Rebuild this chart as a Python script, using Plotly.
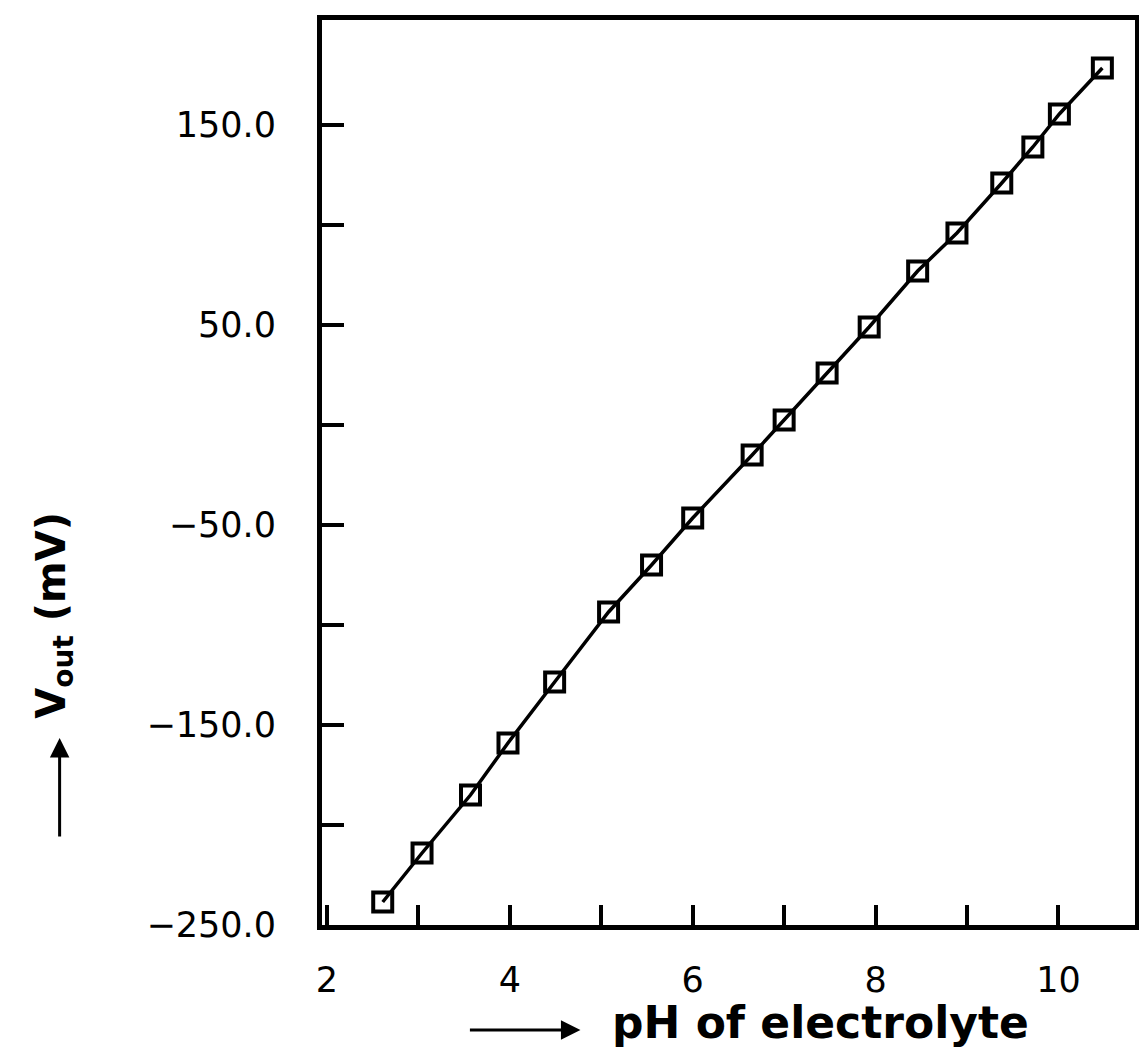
import plotly.graph_objects as go

# Data
ph = [2.61, 3.04, 3.57, 3.98, 4.49, 5.08, 5.55, 6.00, 6.65, 7.00,
      7.47, 7.93, 8.46, 8.89, 9.38, 9.72, 10.01, 10.48]
vout = [-238.5, -214.0, -185.0, -159.0, -128.5, -93.5, -70.0, -46.5, -15.0, 2.5,
        26.0, 49.0, 77.0, 96.0, 121.0, 139.0, 155.5, 178.5]

x_tickvals = [2, 3, 4, 5, 6, 7, 8, 9, 10]
x_ticktext = ["2", "", "4", "", "6", "", "8", "", "10"]
y_tickvals = [-250, -200, -150, -100, -50, 0, 50, 100, 150]
y_ticktext = ["\u2212250.0", "", "\u2212150.0", "", "\u221250.0", "", "50.0", "", "150.0"]

OFF = 8  # default page body margin
W, H = 1147 - OFF, 1048 - OFF
# plot area in page pixels
L, R, T, B = 322, 1140, 20, 925

fig = go.Figure()
fig.add_trace(go.Scatter(
    x=ph, y=vout, mode="lines+markers",
    line=dict(color="black", width=3.5),
    marker=dict(symbol="square-open", size=19, color="black",
                line=dict(color="black", width=4)),
    showlegend=False, cliponaxis=False,
))

font_tick = dict(family="DejaVu Sans", size=35, color="black")

fig.update_xaxes(
    range=[1.946, 10.837], tickmode="array", tickvals=x_tickvals, ticktext=x_ticktext,
    ticks="inside", ticklen=20, tickwidth=4, tickcolor="black",
    showline=True, linewidth=5, linecolor="black", mirror=True,
    showgrid=False, zeroline=False, tickfont=font_tick, ticklabelstandoff=20,
)
fig.update_yaxes(
    range=[-250, 202.5], tickmode="array", tickvals=y_tickvals, ticktext=y_ticktext,
    ticks="inside", ticklen=22, tickwidth=4, tickcolor="black",
    showline=True, linewidth=5, linecolor="black", mirror=True,
    showgrid=False, zeroline=False, tickfont=font_tick, ticklabelstandoff=34,
)

def px(xp):
    return (xp - L) / (R - L)

def py(yp):
    return (B - yp) / (B - T)

title_font = dict(family="DejaVu Sans", size=40, color="black", weight="bold")
xtitle_font = dict(family="DejaVu Sans", size=44, color="black", weight="bold")

annotations = [
    dict(text="<b>V<sub>out</sub> (mV)</b>", xref="paper", yref="paper",
         x=px(52), y=py(615), xanchor="center", yanchor="middle",
         textangle=-90, showarrow=False, font=title_font),
    dict(text="", xref="paper", yref="paper", x=px(58), y=py(738),
         ax=0, ay=100, showarrow=True, arrowhead=2, arrowsize=1.3,
         arrowwidth=3, arrowcolor="black", standoff=0),
    dict(text="<b>pH of electrolyte</b>", xref="paper", yref="paper",
         x=px(612), y=py(1022), xanchor="left", yanchor="middle",
         showarrow=False, font=xtitle_font),
    dict(text="", xref="paper", yref="paper", x=px(582), y=py(1030),
         ax=-112, ay=0, showarrow=True, arrowhead=2, arrowsize=1.3,
         arrowwidth=3, arrowcolor="black", standoff=0),
]

fig.update_layout(
    width=W, height=H,
    margin=dict(l=L - OFF, r=W - (R - OFF), t=T - OFF, b=H - (B - OFF)),
    paper_bgcolor="white", plot_bgcolor="white",
    annotations=annotations,
)

fig.write_html("out.html")
